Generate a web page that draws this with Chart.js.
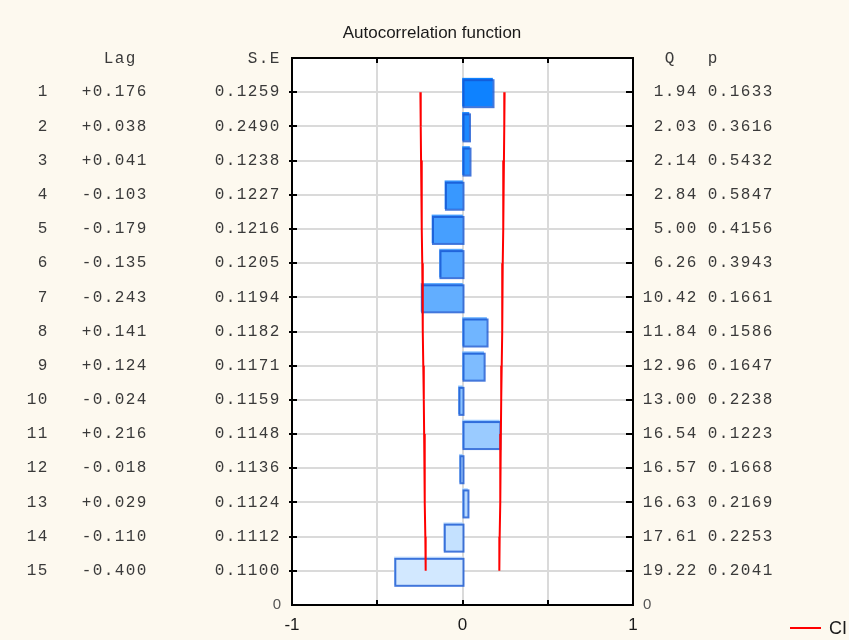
<!DOCTYPE html>
<html>
<head>
<meta charset="utf-8">
<script src="https://cdn.jsdelivr.net/npm/chart.js@4.4.1/dist/chart.umd.min.js"></script>
<style>
  html, body { margin: 0; padding: 0; background: #fdf9ef; }
  canvas { display: block; }
</style>
</head>
<body>
<canvas id="acf" width="849" height="640"></canvas>
<script>
// Autocorrelation table: lag, coefficient, standard error, Box-Ljung Q and p
const lags = [1, 2, 3, 4, 5, 6, 7, 8, 9, 10, 11, 12, 13, 14, 15];
const acf = [0.176, 0.038, 0.041, -0.103, -0.179, -0.135, -0.243, 0.141, 0.124, -0.024, 0.216, -0.018, 0.029, -0.110, -0.400];
const stdErr = [0.1259, 0.2490, 0.1238, 0.1227, 0.1216, 0.1205, 0.1194, 0.1182, 0.1171, 0.1159, 0.1148, 0.1136, 0.1124, 0.1112, 0.1100];
const qStat = [1.94, 2.03, 2.14, 2.84, 5.00, 6.26, 10.42, 11.84, 12.96, 13.00, 16.54, 16.57, 16.63, 17.61, 19.22];
const pValue = [0.1633, 0.3616, 0.5432, 0.5847, 0.4156, 0.3943, 0.1661, 0.1586, 0.1647, 0.2238, 0.1223, 0.1668, 0.2169, 0.2253, 0.2041];
// Half-width of the confidence band at each lag
const ciLimit = [0.247, 0.245, 0.243, 0.240, 0.238, 0.236, 0.234, 0.232, 0.230, 0.227, 0.225, 0.223, 0.220, 0.218, 0.216];
const xTickLabels = ['-1', '0', '1'];

// Lag 1 sits at the top row, lag 15 at the bottom; 0 is the bottom edge
const rowOf = lag => lags.length + 1 - lag;

// Bar fill fades from saturated blue (first lag) to pale blue (last lag)
function barFill(i) {
  const t = i / (lags.length - 1);
  const a = [14, 130, 255], b = [210, 232, 255];
  const c = a.map((v, k) => Math.round(v + (b[k] - v) * t));
  return `rgb(${c[0]},${c[1]},${c[2]})`;
}

const MONO = '16px "Liberation Mono", "DejaVu Sans Mono", monospace';
const SANS = '"Liberation Sans", Arial, sans-serif';
const PITCH = 11;

// Right-aligned text on a fixed character grid
function gridText(ctx, str, rightEdge, y) {
  const start = rightEdge - str.length * PITCH;
  for (let i = 0; i < str.length; i++) {
    ctx.fillText(str[i], start + i * PITCH + PITCH / 2, y);
  }
}

const signed = v => (v >= 0 ? '+' : '-') + Math.abs(v).toFixed(3);

const framePlugin = {
  id: 'frame',
  beforeDraw(chart) {
    const { ctx, chartArea: a } = chart;
    ctx.save();
    ctx.fillStyle = '#fdf9ef';
    ctx.fillRect(0, 0, chart.width, chart.height);
    ctx.fillStyle = '#ffffff';
    ctx.fillRect(a.left, a.top, a.right - a.left, a.bottom - a.top);
    ctx.restore();
  },
  beforeDatasetsDraw(chart) {
    const { ctx, chartArea: a, scales: { x, y } } = chart;
    ctx.save();
    ctx.strokeStyle = '#dadada';
    ctx.lineWidth = 2;
    ctx.beginPath();
    for (let v = y.min + 1; v < y.max; v++) {
      const py = Math.round(y.getPixelForValue(v));
      ctx.moveTo(a.left, py); ctx.lineTo(a.right, py);
    }
    for (const v of [-0.5, 0, 0.5]) {
      const px = Math.round(x.getPixelForValue(v));
      ctx.moveTo(px, a.top); ctx.lineTo(px, a.bottom);
    }
    ctx.stroke();
    ctx.restore();
  },
  afterDatasetDraw(chart, args) {
    if (args.meta.type !== 'bar') return;
    const { ctx } = chart;
    ctx.save();
    ctx.lineWidth = 2;
    ctx.strokeStyle = 'rgba(20, 85, 210, 0.8)';
    args.meta.data.forEach(el => {
      const p = el.getProps(['x', 'y', 'base', 'height'], true);
      const l = Math.min(p.x, p.base) + 1, r = Math.max(p.x, p.base) + 1;
      const t = p.y - p.height / 2 + 2, b = p.y + p.height / 2 + 1;
      ctx.strokeRect(l, t, r - l, b - t);
    });
    ctx.restore();
  },
  afterDraw(chart) {
    const { ctx, chartArea: a, scales: { x, y } } = chart;
    ctx.save();
    // frame
    ctx.strokeStyle = '#000';
    ctx.lineWidth = 2;
    ctx.strokeRect(a.left, a.top, a.right - a.left, a.bottom - a.top);
    // tick marks
    ctx.beginPath();
    for (const v of [-0.5, 0, 0.5]) {
      const px = Math.round(x.getPixelForValue(v));
      ctx.moveTo(px, a.bottom); ctx.lineTo(px, a.bottom - 5);
      ctx.moveTo(px, a.top); ctx.lineTo(px, a.top + 5);
    }
    for (let v = y.min + 1; v < y.max; v++) {
      const py = Math.round(y.getPixelForValue(v));
      ctx.moveTo(a.left - 3, py); ctx.lineTo(a.left + 5, py);
      ctx.moveTo(a.right - 7, py); ctx.lineTo(a.right, py);
    }
    ctx.stroke();

    // title
    ctx.fillStyle = '#1a1a1a';
    ctx.textAlign = 'center';
    ctx.textBaseline = 'middle';
    ctx.font = '17px ' + SANS;
    ctx.fillText('Autocorrelation function', 432, 33);

    // x tick labels
    ctx.font = '17px ' + SANS;
    [-1, 0, 1].forEach((v, i) => ctx.fillText(xTickLabels[i], x.getPixelForValue(v), a.bottom + 20));

    // zero labels beside the bottom edge
    ctx.font = '15px ' + SANS;
    ctx.fillStyle = '#555';
    ctx.textAlign = 'right';
    ctx.fillText('0', a.left - 11, y.getPixelForValue(0));
    ctx.textAlign = 'left';
    ctx.fillText('0', a.right + 10, y.getPixelForValue(0));

    // table columns
    ctx.font = MONO;
    ctx.fillStyle = '#3a3a3a';
    ctx.textAlign = 'center';
    const hy = y.getPixelForValue(y.max) + 1;
    gridText(ctx, 'Lag', 136, hy);
    gridText(ctx, 'S.E', 280, hy);
    gridText(ctx, 'Q', 675, hy);
    gridText(ctx, 'p', 718, hy);
    lags.forEach((lag, i) => {
      const py = y.getPixelForValue(rowOf(lag));
      gridText(ctx, String(lag), 48, py);
      gridText(ctx, signed(acf[i]), 147, py);
      gridText(ctx, stdErr[i].toFixed(4), 280, py);
      gridText(ctx, qStat[i].toFixed(2), 697, py);
      gridText(ctx, pValue[i].toFixed(4), 773, py);
    });

    // legend
    ctx.strokeStyle = '#ff0000';
    ctx.lineWidth = 2;
    ctx.beginPath();
    ctx.moveTo(790, 628); ctx.lineTo(821, 628);
    ctx.stroke();
    ctx.fillStyle = '#1a1a1a';
    ctx.font = '18px ' + SANS;
    ctx.textAlign = 'left';
    ctx.fillText('CI', 829, 629);
    ctx.restore();
  }
};

new Chart(document.getElementById('acf'), {
  type: 'bar',
  data: {
    datasets: [
      {
        type: 'line',
        label: 'CI',
        data: lags.map((lag, i) => ({ x: -ciLimit[i], y: rowOf(lag) })),
        borderColor: '#ff0000',
        borderWidth: 2,
        pointRadius: 0,
        tension: 0,
        order: 0
      },
      {
        type: 'line',
        label: 'CI+',
        data: lags.map((lag, i) => ({ x: ciLimit[i], y: rowOf(lag) })),
        borderColor: '#ff0000',
        borderWidth: 2,
        pointRadius: 0,
        tension: 0,
        order: 0
      },
      {
        type: 'bar',
        label: 'ACF',
        data: lags.map((lag, i) => ({ x: acf[i], y: rowOf(lag) })),
        backgroundColor: lags.map((_, i) => barFill(i)),
        borderWidth: 0,
        barThickness: 28,
        order: 1
      }
    ]
  },
  options: {
    indexAxis: 'y',
    responsive: false,
    animation: false,
    layout: { padding: { left: 292, right: 216, top: 58, bottom: 35 } },
    scales: {
      x: { type: 'linear', min: -1, max: 1, offset: false, display: false },
      y: { type: 'linear', min: 0, max: 16, offset: false, display: false }
    },
    plugins: {
      legend: { display: false },
      tooltip: { enabled: false },
      title: { display: false }
    }
  },
  plugins: [framePlugin]
});
</script>
</body>
</html>
